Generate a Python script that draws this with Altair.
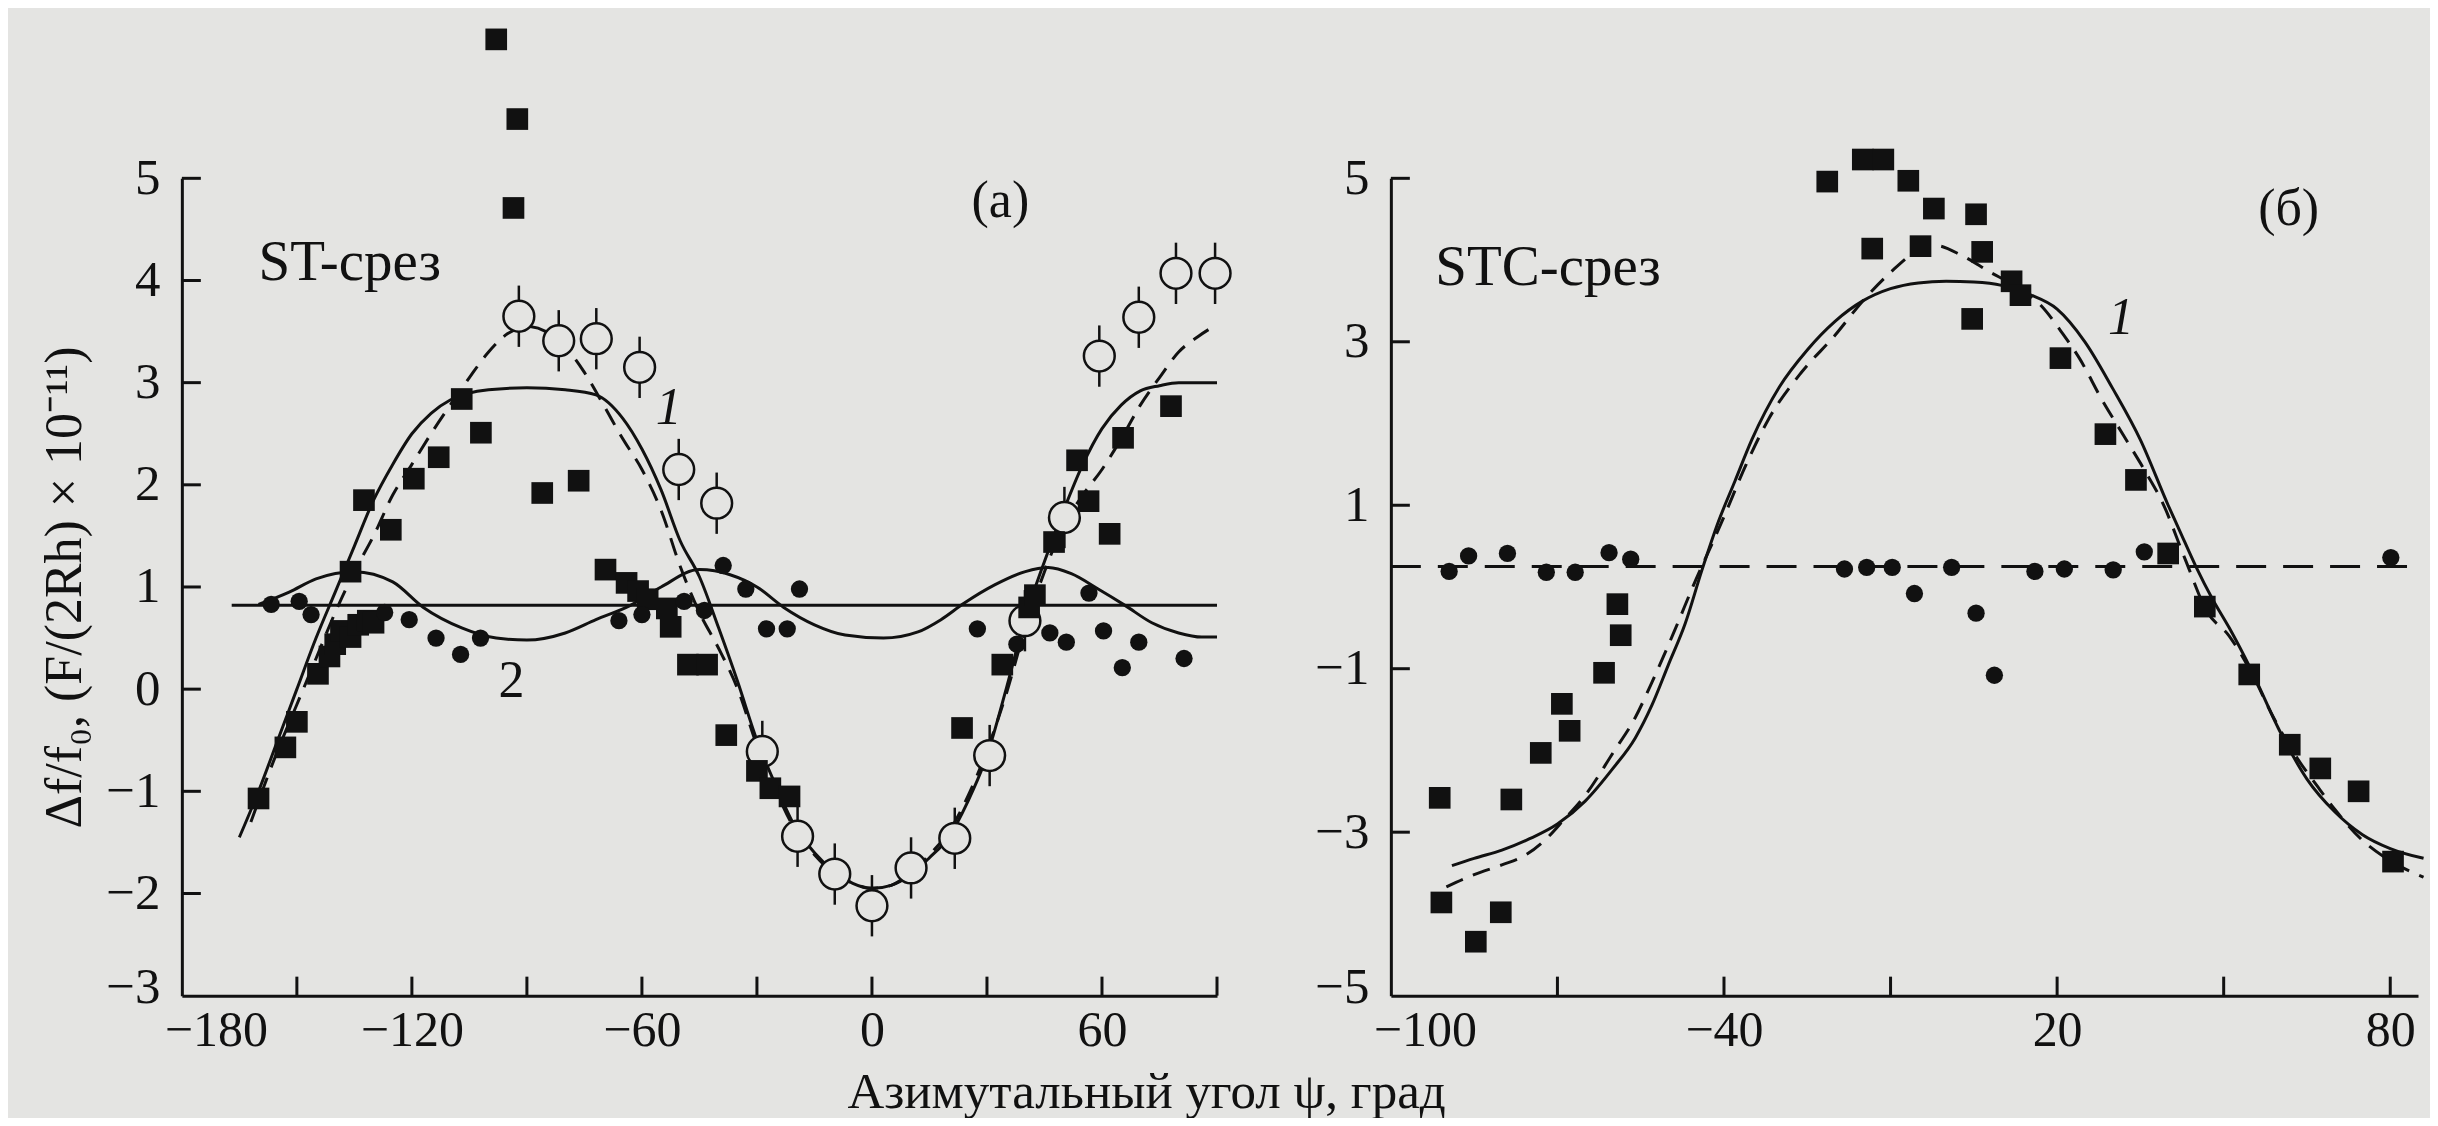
import altair as alt
import pandas as pd

FONT = "Liberation Serif"
BG = "#e4e4e2"
INK = "#111111"

# ---------------- panel (a): ST-срез ----------------
a_sq_x = [-160, -153, -150, -144.5, -141.5, -140, -138.5, -136, -134, -131.5, -130, -136, -132.5, -125.5,
          -119.5, -113, -107, -102, -98, -92.5, -93.5, -86, -76.5, -69.5, -64, -61, -58.5, -53.5, -52.5,
          -48, -43, -38, -30, -26.5, -21.5, 23.5, 34, 41, 42.5, 47.5, 53.5, 56.5, 62, 65.5, 78]
a_sq_y = [-1.07, -0.57, -0.32, 0.15, 0.32, 0.44, 0.57, 0.51, 0.63, 0.67, 0.65, 1.15, 1.85, 1.56,
          2.06, 2.27, 2.84, 2.51, 6.36, 5.58, 4.71, 1.92, 2.04, 1.17, 1.04, 0.96, 0.88, 0.79, 0.61,
          0.24, 0.24, -0.45, -0.80, -0.97, -1.05, -0.38, 0.24, 0.80, 0.92, 1.44, 2.24, 1.84, 1.52, 2.46, 2.77]

a_dot_x = [-156.7, -149.4, -146.3, -127.1, -120.7, -113.7, -107.3, -102.1, -66, -60, -49, -43.7, -38.8,
           -32.9, -27.5, -22.1, -18.9, 27.5, 37.8, 46.4, 50.7, 56.6, 60.4, 65.3, 69.6, 81.4]
a_dot_y = [0.83, 0.86, 0.73, 0.75, 0.68, 0.50, 0.34, 0.50, 0.67, 0.73, 0.86, 0.77, 1.21,
           0.98, 0.59, 0.59, 0.98, 0.59, 0.44, 0.55, 0.46, 0.94, 0.57, 0.21, 0.46, 0.30]

a_open_x = [-92.1, -81.7, -71.9, -60.6, -50.4, -40.5, -28.6, -19.4, -9.7, 0, 10.2, 21.6, 30.7, 39.9,
            50.2, 59.3, 69.6, 79.3, 89.5]
a_open_y = [3.65, 3.41, 3.43, 3.15, 2.15, 1.82, -0.61, -1.44, -1.81, -2.12, -1.75, -1.46, -0.65, 0.67,
            1.68, 3.26, 3.64, 4.07, 4.07]
a_open_err = [0.3, 0.3, 0.3, 0.3, 0.3, 0.3, 0.3, 0.3, 0.3, 0.3, 0.3, 0.3, 0.3, 0.3,
              0.3, 0.3, 0.3, 0.3, 0.3]

# curve 1 (solid)
a_c1_x = [-165, -160, -155, -150, -145, -140, -135, -130, -125, -120, -115, -110, -100, -90, -80, -72,
          -65, -60, -55, -50, -45, -40, -35, -30, -25, -20, -15, -10, -5, 0, 5, 10, 15, 20, 25, 30,
          35, 40, 45, 50, 55, 60, 65, 70, 75, 80, 90]
a_c1_y = [-1.45, -1.0, -0.5, 0.0, 0.5, 0.95, 1.4, 1.85, 2.2, 2.5, 2.7, 2.83, 2.93, 2.95, 2.93, 2.88,
          2.65, 2.35, 1.95, 1.45, 1.1, 0.6, 0.07, -0.5, -0.95, -1.35, -1.6, -1.78, -1.9, -1.95, -1.92,
          -1.82, -1.65, -1.45, -1.1, -0.65, 0.0, 0.7, 1.25, 1.75, 2.2, 2.55, 2.78, 2.92, 2.97, 3.0, 3.0]
# curve 1 (dashed)
a_c1d_x = [-162, -155, -150, -145, -140, -135, -130, -125, -120, -115, -110, -105, -100, -95, -90, -85,
           -80, -75, -70, -65, -60, -55, -50, -45, -40, -35, -30, -25, -20, -15, -10, -5, 0, 5, 10, 15,
           20, 25, 30, 35, 40, 45, 50, 55, 60, 65, 70, 75, 80, 85, 90]
a_c1d_y = [-1.3, -0.6, -0.15, 0.3, 0.75, 1.15, 1.5, 1.9, 2.2, 2.5, 2.78, 3.05, 3.3, 3.48, 3.55, 3.5,
           3.35, 3.1, 2.78, 2.45, 2.15, 1.75, 1.2, 0.75, 0.4, 0.0, -0.55, -1.0, -1.38, -1.62, -1.8, -1.9,
           -1.95, -1.92, -1.8, -1.62, -1.4, -1.05, -0.6, -0.05, 0.6, 1.15, 1.6, 1.9, 2.15, 2.45, 2.78,
           3.05, 3.3, 3.45, 3.57]
# curve 2 (solid, oscillating)
a_c2_x = [-160, -152, -145, -135, -125, -117, -107, -98, -90, -80, -72, -63, -55, -45, -37, -30, -23,
          -15, -7, 3, 12, 18, 24, 32, 40, 46, 52, 59, 66, 73, 80, 86, 90]
a_c2_y = [0.83, 0.95, 1.08, 1.15, 1.05, 0.8, 0.6, 0.5, 0.48, 0.55, 0.68, 0.82, 1.0, 1.17, 1.12, 1.0,
          0.8, 0.63, 0.53, 0.5, 0.56, 0.68, 0.84, 1.02, 1.15, 1.19, 1.13, 0.98, 0.82, 0.65, 0.55, 0.51, 0.51]
# horizontal level line
a_h_x = [-167, 90]
a_h_y = [0.82, 0.82]

a_xtick_vals = [-150, -120, -90, -60, -30, 0, 30, 60, 90]
a_ytick_vals = [-2, -1, 0, 1, 2, 3, 4, 5]
a_xlabels = [-180, -120, -60, 0, 60]
a_ylabels = [-3, -2, -1, 0, 1, 2, 3, 4, 5]

a_txt = ["ST-срез", "(a)", "1", "2"]
a_txt_x = [-160, 33.5, -53, -94]
a_txt_y = [4.0, 4.62, 2.6, -0.08]
a_txt_align = ["left", "center", "center", "center"]
a_txt_style = ["normal", "normal", "italic", "normal"]
a_txt_size = [57, 52, 52, 52]

# ---------------- panel (б): STC-срез ----------------
b_dot_x = [-89.5, -86, -79, -72, -66.8, -60.7, -56.8, -18.3, -14.3, -9.7, -5.7, 1.0, 5.4, 8.7, 16,
           21.3, 30.1, 35.7, 80.1]
b_dot_y = [0.19, 0.38, 0.41, 0.18, 0.18, 0.42, 0.34, 0.22, 0.24, 0.24, -0.08, 0.24, -0.32, -1.08, 0.19,
           0.22, 0.21, 0.43, 0.36]

b_sq_x = [-91.2, -90.9, -84.7, -80.2, -78.3, -73, -69.2, -67.8, -61.6, -58.6, -59.2, -21.4, -15, -11.3,
          -6.8, -2.2, 5.4, -13.3, -4.6, 6.5, 11.8, 13.4, 4.7, 20.6, 28.7, 34.2, 40, 46.6, 54.6, 61.9,
          67.4, 74.3, 80.5]
b_sq_y = [-2.58, -3.86, -4.34, -3.98, -2.60, -2.03, -1.43, -1.76, -1.05, -0.59, -0.21, 4.96, 5.23, 5.23,
          4.97, 4.63, 4.56, 4.14, 4.17, 4.10, 3.74, 3.57, 3.28, 2.80, 1.87, 1.31, 0.41, -0.24, -1.07, -1.93,
          -2.22, -2.50, -3.36]

b_c1_x = [-89, -85, -80, -75, -70, -65, -60, -56, -53, -50, -47, -44, -41, -38, -35, -30, -25, -20, -15,
          -10, -5, 0, 5, 10, 15, 20, 25, 30, 35, 40, 42, 45, 48, 51, 55, 60, 65, 70, 75, 80, 86]
b_c1_y = [-3.41, -3.32, -3.22, -3.08, -2.9, -2.62, -2.22, -1.85, -1.45, -0.95, -0.45, 0.2, 0.8, 1.3, 1.8,
          2.45, 2.9, 3.25, 3.5, 3.65, 3.72, 3.74, 3.73, 3.69, 3.58, 3.4, 3.0, 2.43, 1.8, 1.0, 0.7, 0.25,
          -0.15, -0.5, -1.02, -1.75, -2.35, -2.75, -3.03, -3.2, -3.32]
b_c1d_x = [-90, -85, -80, -76, -72, -69, -65, -60, -56, -53, -49, -45, -42, -40, -36, -32, -26, -20, -15,
           -10, -5, -2, 3, 8, 12, 17, 21, 24, 28, 32, 36, 39, 43, 47, 51, 55, 59, 63, 67, 70, 75, 80, 86]
b_c1d_y = [-3.67, -3.52, -3.4, -3.29, -3.08, -2.86, -2.55, -2.03, -1.6, -1.17, -0.55, 0.1, 0.55, 0.86, 1.5,
           2.05, 2.63, 3.08, 3.5, 3.85, 4.12, 4.18, 4.05, 3.85, 3.7, 3.45, 3.1, 2.8, 2.3, 1.85, 1.4, 1.03,
           0.35, -0.3, -0.6, -1.05, -1.6, -2.07, -2.45, -2.72, -3.1, -3.35, -3.55]
b_h_x = [-100, 85]
b_h_y = [0.25, 0.25]

b_xtick_vals = [-70, -40, -10, 20, 50, 80]
b_ytick_vals = [-3, -1, 1, 3, 5]
b_xlabels = [-100, -40, 20, 80]
b_ylabels = [-5, -3, -1, 1, 3, 5]

b_txt = ["STC-срез", "(б)", "1"]
b_txt_x = [-92, 61.7, 31.5]
b_txt_y = [3.7, 4.43, 3.1]
b_txt_align = ["left", "center", "center"]
b_txt_style = ["normal", "normal", "italic"]
b_txt_size = [57, 52, 52]

# ---------------- sizes ----------------
A_W, A_H = 1036, 818
B_W, B_H = 1028, 818
TICK = 19


def frame(xs, ys, **extra):
    d = {"x": xs, "y": ys}
    d.update(extra)
    return pd.DataFrame(d)


def panel(W, H, xdom, ydom, xlabels, ylabels, xticks, yticks, xtitle, ytitle,
          lines_solid, lines_dashed, hline, hline_dash, squares, dots, opens, texts):
    xs = alt.Scale(domain=xdom, nice=False, zero=False)
    ys = alt.Scale(domain=ydom, nice=False, zero=False)
    xlow = xdom[0]
    xaxis_kw = dict(values=xlabels, ticks=False, tickSize=0, domainColor=INK, domainWidth=3, grid=False,
                    labelFont=FONT, labelFontSize=50, labelColor=INK, labelPadding=10,
                    labelFlush=False, labelOverlap=False,
                    labelOffset=alt.condition(f"datum.value == {xlow}", alt.value(34), alt.value(0)))
    if xtitle:
        xaxis_kw.update(title=xtitle, titleFont=FONT, titleFontSize=51, titleFontWeight="normal",
                        titleColor=INK, titleX=965, titleY=97, titleAlign="center", titleBaseline="middle")
    else:
        xaxis_kw.update(title=None)
    low = ydom[0]
    yaxis_kw = dict(values=ylabels, ticks=False, tickSize=0, domainColor=INK, domainWidth=3, grid=False,
                    labelFont=FONT, labelFontSize=51, labelColor=INK, labelPadding=22,
                    labelFlush=False, labelOverlap=False,
                    labelOffset=alt.condition(f"datum.value == {low}", alt.value(-8), alt.value(0)))
    if ytitle:
        yaxis_kw.update(title=ytitle, titleFont=FONT, titleFontSize=52, titleFontWeight="normal",
                        titleColor=INK, titlePadding=14)
    else:
        yaxis_kw.update(title=None)
    X = lambda f="x": alt.X(f"{f}:Q", scale=xs, axis=alt.Axis(**xaxis_kw))
    Y = lambda f="y": alt.Y(f"{f}:Q", scale=ys, axis=alt.Axis(**yaxis_kw))

    layers = []
    hx, hy = hline
    hmark = dict(color=INK, strokeWidth=3)
    if hline_dash:
        hmark["strokeDash"] = [30, 17]
    layers.append(alt.Chart(frame(hx, hy)).mark_line(**hmark).encode(x=X(), y=Y()))
    for lx, ly in lines_solid:
        layers.append(alt.Chart(frame(lx, ly)).mark_line(color=INK, strokeWidth=3, interpolate="monotone")
                      .encode(x=X(), y=Y()))
    for lx, ly in lines_dashed:
        layers.append(alt.Chart(frame(lx, ly)).mark_line(color=INK, strokeWidth=3, interpolate="monotone",
                                                          strokeDash=[18, 11]).encode(x=X(), y=Y()))
    if opens is not None:
        ox, oy, oe = opens
        od = frame(ox, oy, err=oe)
        od["lo"] = od["y"] - od["err"]
        od["hi"] = od["y"] + od["err"]
        layers.append(alt.Chart(od).mark_rule(color=INK, strokeWidth=2.5)
                      .encode(x=X(), y=Y("lo"), y2="hi"))
        layers.append(alt.Chart(od).mark_circle(size=950, fill=BG, stroke=INK, strokeWidth=2.5, opacity=1)
                      .encode(x=X(), y=Y()))
    sx, sy = squares
    layers.append(alt.Chart(frame(sx, sy)).mark_square(size=470, color=INK, opacity=1)
                  .encode(x=X(), y=Y()))
    dx, dy = dots
    layers.append(alt.Chart(frame(dx, dy)).mark_circle(size=300, color=INK, opacity=1)
                  .encode(x=X(), y=Y()))
    # inward ticks
    layers.append(alt.Chart(pd.DataFrame({"x": xticks})).mark_rule(color=INK, strokeWidth=3)
                  .encode(x=X(), y=alt.value(H), y2=alt.value(H - TICK)))
    layers.append(alt.Chart(pd.DataFrame({"y": yticks})).mark_rule(color=INK, strokeWidth=3)
                  .encode(y=Y(), x=alt.value(0), x2=alt.value(TICK)))
    # annotations
    t, tx, ty, ta, tst, tsz = texts
    for i in range(len(t)):
        layers.append(alt.Chart(frame([tx[i]], [ty[i]], label=[t[i]]))
                      .mark_text(font=FONT, fontSize=tsz[i], color=INK, align=ta[i], baseline="alphabetic",
                                 fontStyle=tst[i])
                      .encode(x=X(), y=Y(), text="label:N"))
    return alt.layer(*layers).properties(width=W, height=H)


left = panel(A_W, A_H, [-180, 90], [-3, 5], a_xlabels, a_ylabels, a_xtick_vals, a_ytick_vals,
             "Азимутальный угол ψ, град", "Δf/f₀, (F/(2Rh) × 10⁻¹¹)",
             [(a_c1_x, a_c1_y), (a_c2_x, a_c2_y)], [(a_c1d_x, a_c1d_y)], (a_h_x, a_h_y), False,
             (a_sq_x, a_sq_y), (a_dot_x, a_dot_y), (a_open_x, a_open_y, a_open_err),
             (a_txt, a_txt_x, a_txt_y, a_txt_align, a_txt_style, a_txt_size))

right = panel(B_W, B_H, [-100, 85], [-5, 5], b_xlabels, b_ylabels, b_xtick_vals, b_ytick_vals,
              None, None,
              [(b_c1_x, b_c1_y)], [(b_c1d_x, b_c1d_y)], (b_h_x, b_h_y), True,
              (b_sq_x, b_sq_y), (b_dot_x, b_dot_y), None,
              (b_txt, b_txt_x, b_txt_y, b_txt_align, b_txt_style, b_txt_size))

chart = (alt.hconcat(left, right, spacing=174, bounds="flush")
         .properties(background=BG, padding={"left": 30, "top": 20, "right": 0, "bottom": 0})
         .configure_view(strokeWidth=0))

chart.save("out.html", embed_options={"renderer": "svg", "actions": False})
